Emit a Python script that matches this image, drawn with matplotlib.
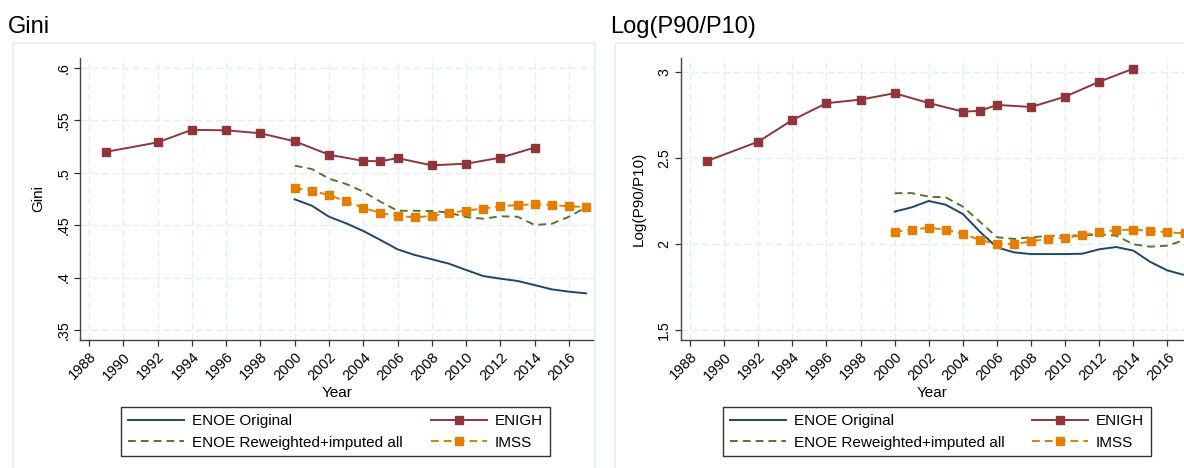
import matplotlib
matplotlib.use("Agg")
import matplotlib.pyplot as plt
from matplotlib.patches import Rectangle

plt.rcParams['font.family'] = ['Liberation Sans', 'DejaVu Sans']

# data
years_enoe = [2000, 2001, 2002, 2003, 2004, 2005, 2006, 2007, 2008,
              2009, 2010, 2011, 2012, 2013, 2014, 2015, 2016, 2017]
years_enigh = [1989, 1992, 1994, 1996, 1998, 2000, 2002, 2004, 2005,
               2006, 2008, 2010, 2012, 2014]

gini_enoe_orig = [0.4747, 0.4686, 0.4581, 0.4518, 0.4445, 0.4359, 0.4270, 0.4216, 0.4175,
                  0.4133, 0.4073, 0.4015, 0.3990, 0.3968, 0.3929, 0.3888, 0.3866, 0.3850]
gini_enoe_rew = [0.5068, 0.5036, 0.4944, 0.4893, 0.4820, 0.4724, 0.4638, 0.4638, 0.4636,
                 0.4620, 0.4578, 0.4562, 0.4585, 0.4581, 0.4502, 0.4514, 0.4581, 0.4671]
gini_imss = [0.4852, 0.4831, 0.4786, 0.4728, 0.4667, 0.4616, 0.4588, 0.4575, 0.4588,
             0.4616, 0.4640, 0.4659, 0.4680, 0.4693, 0.4699, 0.4693, 0.4680, 0.4674]
gini_enigh = [0.520, 0.529, 0.541, 0.5405, 0.5377, 0.530, 0.5173, 0.5113, 0.511,
              0.514, 0.5071, 0.5087, 0.5144, 0.524]

p9010_enoe_orig = [2.189, 2.214, 2.251, 2.229, 2.175, 2.072, 1.981, 1.952, 1.942,
                   1.942, 1.942, 1.944, 1.970, 1.983, 1.962, 1.896, 1.847, 1.820]
p9010_enoe_rew = [2.296, 2.297, 2.276, 2.272, 2.218, 2.130, 2.040, 2.030, 2.040,
                  2.047, 2.051, 2.049, 2.057, 2.049, 1.999, 1.985, 1.991, 2.024]
p9010_imss = [2.072, 2.084, 2.095, 2.084, 2.059, 2.024, 2.001, 1.999, 2.016,
              2.030, 2.037, 2.051, 2.069, 2.082, 2.084, 2.078, 2.069, 2.063]
p9010_enigh = [2.484, 2.596, 2.722, 2.820, 2.841, 2.878, 2.821, 2.771, 2.775,
               2.810, 2.798, 2.858, 2.945, 3.021]

xticks = list(range(1988, 2017, 2))
gini_ticks = [0.35, 0.4, 0.45, 0.5, 0.55, 0.6]
gini_ticklabels = ['.35', '.4', '.45', '.5', '.55', '.6']
p9010_ticks = [1.5, 2, 2.5, 3]
p9010_ticklabels = ['1.5', '2', '2.5', '3']

labels = ['ENOE Original', 'ENOE Reweighted+imputed all', 'ENIGH', 'IMSS']

NAVY = '#1a476f'
MAROON = '#90353b'
GREEN = '#55752f'
ORANGE = '#e37e00'
GRID = '#e4edef'

W, H = 1184, 468
fig = plt.figure(figsize=(W / 100, H / 100), dpi=100)


def px(x0, y0, x1, y1):
    # pixel box -> figure fraction [left, bottom, width, height]
    return [x0 / W, 1 - y1 / H, (x1 - x0) / W, (y1 - y0) / H]


def panel(rect, xlim, ylim, title, title_x, ylab, yt, ytl,
          orig, rew, imss, enigh, leg_box):
    ax = fig.add_axes(px(*rect))
    ax.plot(years_enoe, orig, color=NAVY, lw=1.4, label=labels[0])
    ax.plot(years_enoe, rew, color=GREEN, lw=1.4, ls=(0, (4, 2.6)), label=labels[1])
    ax.plot(years_enigh, enigh, color=MAROON, lw=1.4, marker='s', ms=5.8,
            markeredgecolor=MAROON, label=labels[2])
    ax.plot(years_enoe, imss, color=ORANGE, lw=1.4, ls=(0, (4, 2.6)), marker='s', ms=5.8,
            markeredgecolor=ORANGE, label=labels[3])
    ax.set_xlim(*xlim)
    ax.set_ylim(*ylim)
    ax.set_xticks(xticks)
    ax.set_xticklabels([str(t) for t in xticks], rotation=45, ha='right',
                       rotation_mode='anchor', fontsize=10.5)
    ax.set_yticks(yt)
    ax.set_yticklabels(ytl, rotation=90, va='center', fontsize=10.3)
    ax.tick_params(length=4, width=0.9, color='#333333', pad=3)
    ax.grid(True, color=GRID, lw=1.0, ls=(0, (5, 2.5)))
    ax.set_axisbelow(True)
    for s in ['top', 'right']:
        ax.spines[s].set_visible(False)
    for s in ['left', 'bottom']:
        ax.spines[s].set_color('#444444')
        ax.spines[s].set_linewidth(1.0)
    ax.set_xlabel('Year', fontsize=11, labelpad=2)
    ax.set_ylabel(ylab, fontsize=11, labelpad=8)
    fig.text(title_x / W, 1 - 33 / H, title, fontsize=17, va='baseline', ha='left')

    h, l = ax.get_legend_handles_labels()
    lx0, ly0, lx1, ly1 = leg_box
    leg = fig.legend(h, l, ncol=2,
                     loc='upper left', bbox_to_anchor=(lx0 / W, 1 - ly0 / H, (lx1 - lx0) / W, 0.0),
                     mode='expand', fontsize=11, frameon=True, fancybox=False,
                     edgecolor='black', borderpad=0.45, labelspacing=0.5,
                     handlelength=3.7, handletextpad=0.5, numpoints=1,
                     borderaxespad=0.0, columnspacing=1.5)
    leg.get_frame().set_linewidth(1.0)
    return ax


# light outer panel borders
fig.patches.append(Rectangle((13 / W, -0.1), (595 - 13) / W, 1.1 - 43 / H,
                             transform=fig.transFigure, fill=False, ec='#e6eef0', lw=1.2))
fig.patches.append(Rectangle((615 / W, -0.1), 0.6, 1.1 - 43 / H,
                             transform=fig.transFigure, fill=False, ec='#e6eef0', lw=1.2))

panel((80, 58, 594, 340), (1987.475, 2017.46), (0.3405, 0.6095), 'Gini', 8,
      'Gini', gini_ticks, gini_ticklabels,
      gini_enoe_orig, gini_enoe_rew, gini_imss, gini_enigh, (121, 407, 550, 455))

panel((681, 58, 1184, 340), (1987.47, 2016.97), (1.442, 3.083), 'Log(P90/P10)', 610,
      'Log(P90/P10)', p9010_ticks, p9010_ticklabels,
      p9010_enoe_orig, p9010_enoe_rew, p9010_imss, p9010_enigh, (723, 407, 1151, 455))

fig.savefig('out.png', dpi=100)
